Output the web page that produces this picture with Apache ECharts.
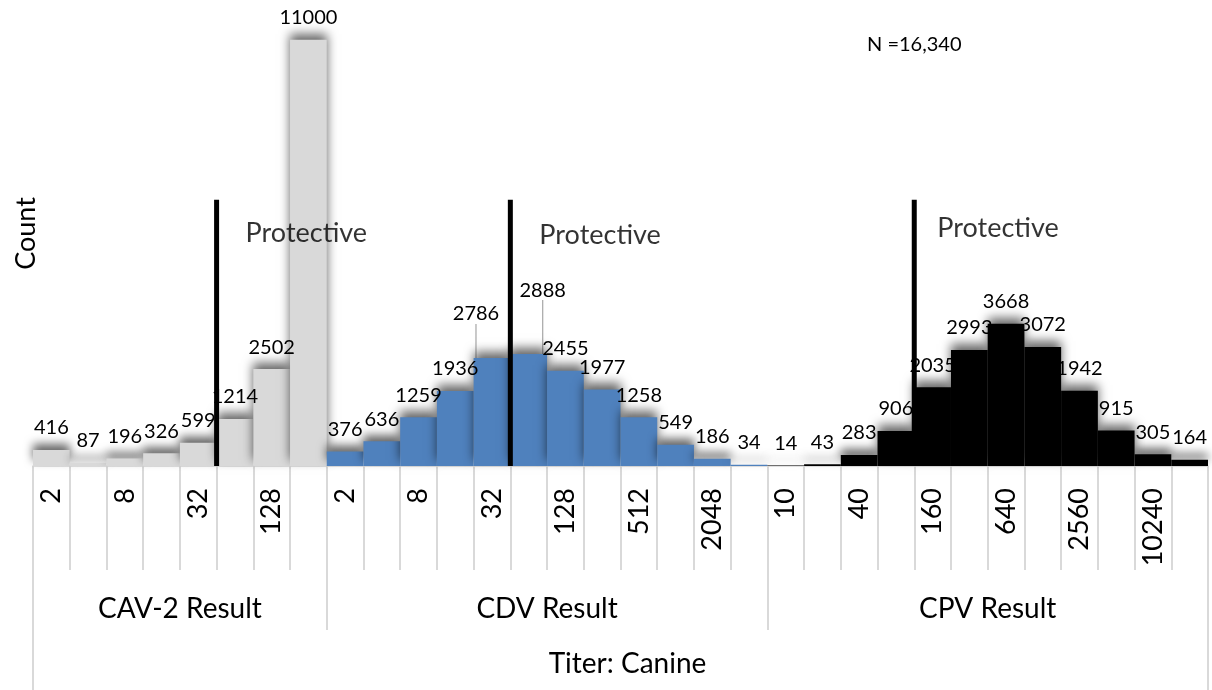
<!DOCTYPE html>
<html>
<head>
<meta charset="utf-8">
<script src="https://cdn.jsdelivr.net/npm/echarts@6/dist/echarts.min.js"></script>
<style>
  html, body { margin: 0; padding: 0; background: #fff; }
  #chart { width: 1212px; height: 690px; }
</style>
</head>
<body>
<div id="chart"></div>
<script>
// ---- data ----
const groupNames = ['CAV-2 Result', 'CDV Result', 'CPV Result'];
const cavTiters = ['2', '4', '8', '16', '32', '64', '128', '256'];
const cdvTiters = ['2', '4', '8', '16', '32', '64', '128', '256', '512', '1024', '2048', '4096'];
const cpvTiters = ['10', '20', '40', '80', '160', '320', '640', '1280', '2560', '5120', '10240', '20480'];
const cavCounts = [416, 87, 196, 326, 599, 1214, 2502, 11000];
const cdvCounts = [376, 636, 1259, 1936, 2786, 2888, 2455, 1977, 1258, 549, 186, 34];
const cpvCounts = [14, 43, 283, 906, 2035, 2993, 3668, 3072, 1942, 915, 305, 164];
// protective cut-off: first protective titer in each group
const protectiveTiter = ['64', '64', '160'];
const protectiveLineHeight = 6870;
const outerTitle = 'Titer: Canine';
const yName = 'Count';
const nText = 'N =16,340';

// ---- build ----
const groupTiters = [cavTiters, cdvTiters, cpvTiters];
const groupCounts = [cavCounts, cdvCounts, cpvCounts];
const categories = [].concat(cavTiters, cdvTiters, cpvTiters);
const total = categories.length;
const starts = [];
let acc = 0;
groupTiters.forEach(t => { starts.push(acc); acc += t.length; });
const bounds = starts.concat([total]);
const centers = groupTiters.map((t, i) => starts[i] + t.length / 2);
const cutX = protectiveTiter.map((t, i) => starts[i] + groupTiters[i].indexOf(t));

const colors = ['#d9d9d9', '#4f81bd', '#000000'];
const FONT = 'Lato';

// label nudges (style only) for crowded labels, keyed by global index
const labelNudge = {};
labelNudge[starts[1] + 4] = { dx: -16, dy: -22 };
labelNudge[starts[1] + 5] = { dx: 14, dy: -42 };

function seriesData(g) {
  const arr = new Array(total).fill('-');
  groupCounts[g].forEach((v, i) => {
    const idx = starts[g] + i;
    arr[idx] = labelNudge[idx]
      ? { value: v, labelLine: { show: true, lineStyle: { color: '#a6a6a6', width: 1.2 } } }
      : v;
  });
  return arr;
}

const barSeries = groupCounts.map((c, g) => ({
  type: 'bar',
  name: groupNames[g],
  stack: 'all',
  xAxisIndex: 0,
  yAxisIndex: 0,
  barCategoryGap: '0%',
  data: seriesData(g),
  itemStyle: {
    color: colors[g],
    shadowColor: 'rgba(0,0,0,0.6)',
    shadowBlur: 10,
    shadowOffsetY: -6
  },
  label: {
    show: true,
    position: 'top',
    distance: 12,
    fontFamily: FONT,
    fontSize: 20,
    color: '#000'
  },
  labelLine: { show: false },
  labelLayout: function (p) {
    const n = labelNudge[p.dataIndex];
    return n ? { dx: n.dx, dy: n.dy } : {};
  },
  z: 2
}));

const lineSeries = cutX.map(x => ({
  type: 'line',
  xAxisIndex: 1,
  yAxisIndex: 0,
  data: [[x, 0], [x, protectiveLineHeight]],
  symbol: 'none',
  lineStyle: { color: '#000', width: 5 },
  z: 5,
  silent: true
}));

const protectOffsets = [[29, 34], [29, 36], [23, 29]];
const labelSeries = {
  type: 'scatter',
  xAxisIndex: 1,
  yAxisIndex: 0,
  symbolSize: 0,
  silent: true,
  data: cutX.map((x, i) => ({
    value: [x, protectiveLineHeight],
    label: { offset: protectOffsets[i] }
  })),
  label: {
    show: true,
    position: 'right',
    distance: 0,
    formatter: 'Protective',
    fontFamily: FONT,
    fontSize: 27,
    color: '#000'
  },
  z: 6
};

const chart = echarts.init(document.getElementById('chart'), null, { renderer: 'canvas' });
chart.setOption({
  animation: false,
  backgroundColor: '#fff',
  title: {
    text: nText,
    left: 862,
    top: 30,
    textStyle: { fontFamily: FONT, fontSize: 20, fontWeight: 'normal', color: '#000' }
  },
  grid: { left: 33, right: 4, top: 1, bottom: 224, containLabel: false },
  xAxis: [
    {
      type: 'category',
      data: categories,
      position: 'bottom',
      axisLine: { show: true, lineStyle: { color: '#d9d9d9', width: 1.5 } },
      axisTick: { show: true, interval: 0, length: 104, lineStyle: { color: '#d9d9d9', width: 2 } },
      axisLabel: { interval: 1, rotate: 90, margin: 22, fontFamily: FONT, fontSize: 27, color: '#000' },
      splitLine: { show: false }
    },
    {
      type: 'value',
      min: 0,
      max: total,
      position: 'bottom',
      offset: 104,
      axisLine: { show: false },
      splitLine: { show: false },
      axisTick: { show: true, customValues: bounds, length: 60, lineStyle: { color: '#d9d9d9', width: 2 } },
      axisLabel: {
        customValues: centers,
        margin: 25,
        fontFamily: FONT,
        fontSize: 28,
        color: '#000',
        formatter: v => groupNames[centers.indexOf(v)] || ''
      }
    },
    {
      type: 'value',
      min: 0,
      max: total,
      position: 'bottom',
      offset: 164,
      axisLine: { show: false },
      splitLine: { show: false },
      axisTick: { show: true, customValues: [0, total], length: 60, lineStyle: { color: '#d9d9d9', width: 2 } },
      axisLabel: {
        customValues: [total / 2],
        margin: 20,
        padding: [0, 0, 0, 14],
        fontFamily: FONT,
        fontSize: 28,
        color: '#000',
        formatter: () => outerTitle
      }
    }
  ],
  yAxis: {
    type: 'value',
    min: 0,
    max: 12000,
    name: yName,
    nameLocation: 'middle',
    nameGap: -7,
    nameRotate: 90,
    nameTextStyle: { fontFamily: FONT, fontSize: 27, color: '#000' },
    axisLine: { show: false },
    axisTick: { show: false },
    axisLabel: { show: false },
    splitLine: { show: false }
  },
  series: barSeries.concat(lineSeries, [labelSeries])
});
</script>
</body>
</html>
